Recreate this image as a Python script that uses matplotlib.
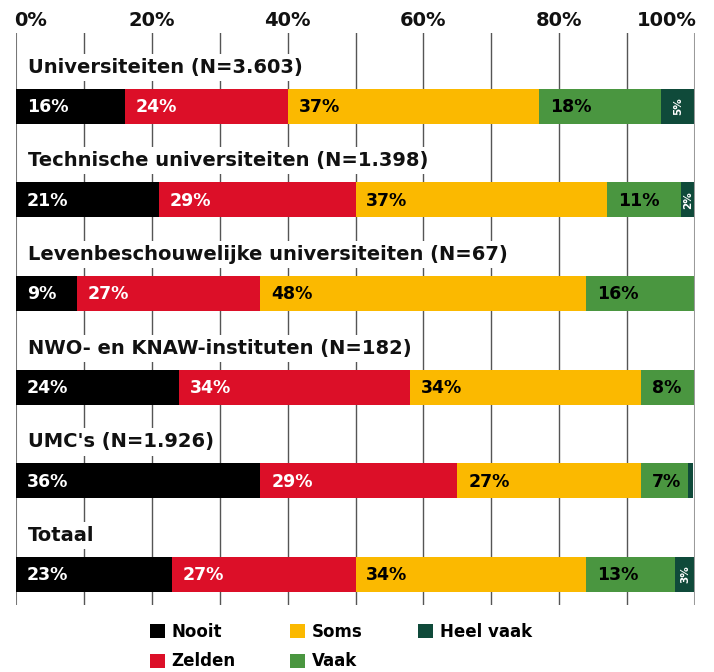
import matplotlib
matplotlib.use("Agg")
import matplotlib.pyplot as plt
from matplotlib.patches import Patch
from matplotlib.transforms import blended_transform_factory

plt.rcParams['font.family'] = ['DejaVu Sans']

categories = [
    "Universiteiten (N=3.603)",
    "Technische universiteiten (N=1.398)",
    "Levenbeschouwelijke universiteiten (N=67)",
    "NWO- en KNAW-instituten (N=182)",
    "UMC's (N=1.926)",
    "Totaal",
]
series_names = ["Nooit", "Zelden", "Soms", "Vaak", "Heel vaak"]
nooit = [16, 21, 9, 24, 36, 23]
zelden = [24, 29, 27, 34, 29, 27]
soms = [37, 37, 48, 34, 27, 34]
vaak = [18, 11, 16, 8, 7, 13]
heel_vaak = [5, 2, 0, 0, 0.7, 3]
tick_values = [0, 20, 40, 60, 80, 100]
tick_labels = ["0%", "20%", "40%", "60%", "80%", "100%"]

colors = ["#000000", "#DC0F28", "#FBB900", "#4A9640", "#0F4A3A"]
text_colors = ["white", "white", "black", "black", "white"]

W, H = 714, 672
fig = plt.figure(figsize=(W / 100, H / 100), dpi=100)
ax_left, ax_right = 16 / W, 695 / W
ax_top, ax_bot = 1 - 33 / H, 1 - 605 / H
ax = fig.add_axes([ax_left, ax_bot, ax_right - ax_left, ax_top - ax_bot])

bar_h = 0.375
ax.set_xlim(0, 100)
ax.set_ylim(5.325, -0.78)

for gx in range(10, 100, 10):
    ax.axvline(gx, color="#555555", lw=1.0, zorder=0)
ax.axvline(0, color="#777777", lw=1.5, zorder=0)
ax.axvline(100, color="#9a9a9a", lw=2.2, zorder=5)

all_series = [nooit, zelden, soms, vaak, heel_vaak]
y = list(range(len(categories)))
lefts = [0] * len(categories)
for s_idx, vals in enumerate(all_series):
    ax.barh(y, vals, left=lefts, height=bar_h, color=colors[s_idx],
            edgecolor="none", zorder=2, label=series_names[s_idx])
    for i, v in enumerate(vals):
        if v <= 0:
            continue
        if s_idx == 4:
            if v >= 2:
                ax.text(lefts[i] + v / 2, i, f"{round(v)}%", rotation=90,
                        ha="center", va="center", color=text_colors[s_idx],
                        fontsize=7.5, fontweight="bold", zorder=4)
        else:
            ax.text(lefts[i] + 1.6, i + 0.01, f"{round(v)}%", ha="left",
                    va="center", color=text_colors[s_idx], fontsize=12.5,
                    fontweight="bold", zorder=4)
    lefts = [a + b for a, b in zip(lefts, vals)]

for i, cat in enumerate(categories):
    ax.text(1.7, i - 0.415, cat, ha="left", va="center", fontsize=14,
            fontweight="bold", color="#111111", zorder=3,
            bbox=dict(facecolor="white", edgecolor="none", pad=3))

trans = blended_transform_factory(ax.transData, ax.transAxes)
for tv, tl in zip(tick_values, tick_labels):
    ha = "center"
    xpos = tv
    if tv == 0:
        ha = "left"
        xpos = -0.3
    elif tv == 100:
        ha = "right"
        xpos = 100.3
    ax.text(xpos, 1 + 13 / 572, tl, transform=trans, ha=ha, va="center",
            fontsize=14, fontweight="bold", color="#111111")

ax.set_xticks([])
ax.set_yticks([])
for sp in ax.spines.values():
    sp.set_visible(False)

handles = [Patch(facecolor=c, edgecolor="none") for c in colors]
fig.legend(handles, series_names, ncol=3, loc="upper left",
           bbox_to_anchor=(138 / W, 1 - 611 / H), frameon=False,
           handlelength=0.9, handleheight=0.9,
           handletextpad=0.4, columnspacing=3.3, labelspacing=0.7,
           borderpad=0.2, prop={"weight": "bold", "size": 12})

fig.savefig("out.png", dpi=100)
